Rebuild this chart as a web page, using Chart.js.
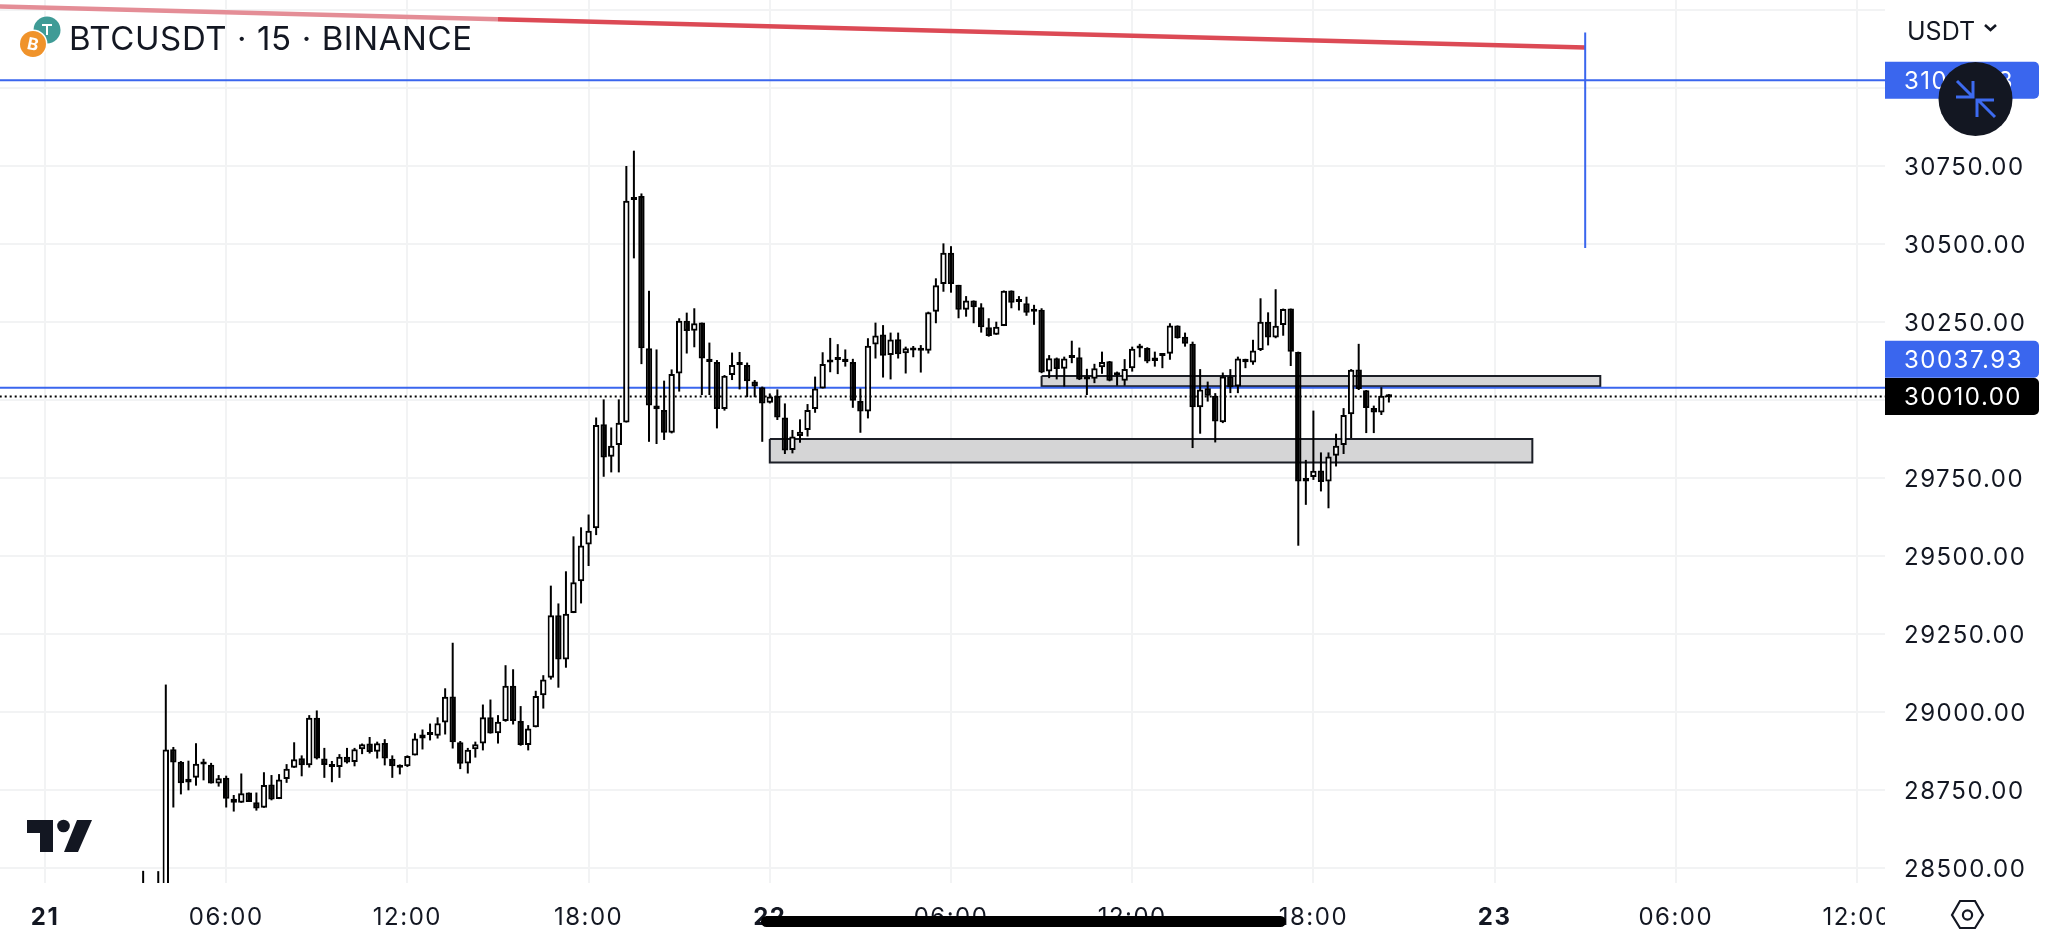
<!DOCTYPE html>
<html>
<head>
<meta charset="utf-8">
<title>BTCUSDT</title>
<script src="https://cdn.jsdelivr.net/npm/chart.js@4"></script>
<style>
  html, body { margin: 0; padding: 0; background: #fff; width: 2048px; height: 945px; overflow: hidden; }
  #chart { position: absolute; left: 0; top: 0; }
  #overlay { position: absolute; left: 0; top: 0; pointer-events: none; }
  .label { position: absolute; font-family: Inter, sans-serif; color: #131722; white-space: nowrap; }
  #symbol { left: 69px; top: 18px; font-size: 33px; line-height: 40px; letter-spacing: 0.6px; }
  #currency { left: 1907px; top: 16px; font-size: 25px; line-height: 30px; }
</style>
</head>
<body>
<canvas id="chart" width="2048" height="945"></canvas>
<svg id="overlay" width="2048" height="945" xmlns="http://www.w3.org/2000/svg">
  <rect x="1885" y="884" width="163" height="61" fill="#fff"/>
  <!-- pair icons -->
  <circle cx="47" cy="30" r="13.5" fill="#3f9b96"/>
  <path d="M42 25h10M47 25v10" stroke="#fff" stroke-width="2" fill="none"/>
  <circle cx="33" cy="44" r="14.5" fill="#fff"/>
  <circle cx="33" cy="44" r="13" fill="#f0932b"/>
  <text x="33" y="50" font-family="Inter, sans-serif" font-size="17" font-weight="700" fill="#fff" text-anchor="middle" transform="rotate(12 33 44)">B</text>
  <!-- logo -->
  <path d="M27 820H53V852H40V833H27Z" fill="#131722"/>
  <circle cx="63.5" cy="826" r="6.3" fill="#131722"/>
  <path d="M77 820H92L78 852H64Z" fill="#131722"/>
  <!-- currency chevron -->
  <path d="M1985 25l5.5 5 5.5-5" stroke="#131722" stroke-width="2.6" fill="none"/>
  <!-- collapse button -->
  <circle cx="1975.5" cy="99" r="37" fill="#131722"/>
  <path d="M1957 81L1973 97M1956 97H1973V81M1995 117L1978 100M1994 100H1977V117" stroke="#3d6bf0" stroke-width="3" fill="none"/>
  <!-- settings hexagon -->
  <path d="M1952 915L1960 901H1975L1983 915L1975 928H1960Z" stroke="#131722" stroke-width="2.2" fill="none"/>
  <circle cx="1967.5" cy="915" r="4.6" stroke="#131722" stroke-width="2.2" fill="none"/>
  <!-- home bar -->
  <rect x="761" y="916" width="525" height="11" rx="5.5" fill="#000"/>
</svg>
<div class="label" id="symbol">BTCUSDT · 15 · BINANCE</div>
<div class="label" id="currency">USDT</div>
<script>
// 15 minute candles, slot 0 = 21st 00:00
const firstSlot = 13;
const opens = [
  28440,28420,28420,28440,28880,28840,28773,28788,28835,28830,28770,28788,28721,28708,28741,28710,28692,28767,28720,28784,
  28820,28851,28828,28981,28850,28828,28823,28856,28839,28880,28898,28872,28900,28849,28820,28825,28860,28927,28927,28923,
  28965,29049,28902,28834,28880,28898,28982,28931,28970,29083,28970,28893,28950,29053,29109,29309,29167,29316,29418,29536,
  29588,29921,29817,29855,29927,30640,30653,30165,29981,29967,29894,30084,30253,30221,30247,30131,30121,29970,30079,30113,
  30111,30058,30040,29990,30012,29943,29839,29884,29903,29970,30036,30125,30130,30131,30121,29996,29962,30177,30209,30143,
  30194,30149,30158,30159,30157,30282,30371,30471,30368,30288,30318,30296,30232,30208,30236,30350,30316,30309,30286,30288,
  30090,30133,30099,30138,30136,30068,30067,30104,30123,30080,30061,30101,30167,30166,30124,30145,30147,30238,30202,30179,
  29976,30037,30013,29928,30074,30042,30131,30119,30159,30250,30199,30239,30292,30153,29749,29752,29773,29738,29820,29855,
  29953,30097,30030,29973,29959,30008
];
const highs = [
  28490,28440,28489,29087,28887,28842,28843,28899,28849,28836,28797,28795,28733,28802,28741,28741,28806,28797,28800,28832,
  28902,28860,28989,29004,28884,28842,28864,28884,28884,28898,28919,28904,28912,28860,28831,28860,28931,28943,28962,28982,
  29075,29221,28906,28884,28904,29023,29039,28989,29149,29136,29018,28957,29067,29117,29404,29347,29450,29562,29591,29632,
  29943,30001,29911,30001,30749,30798,30661,30349,30161,30061,30097,30261,30279,30293,30247,30183,30127,30079,30151,30153,
  30119,30063,30042,30020,30033,29988,29903,29937,29986,30074,30152,30198,30178,30161,30131,30036,30197,30247,30239,30215,
  30215,30170,30172,30175,30282,30389,30501,30492,30368,30332,30318,30309,30261,30250,30350,30350,30332,30330,30304,30293,
  30143,30135,30138,30189,30167,30099,30115,30154,30124,30090,30130,30170,30179,30168,30154,30146,30245,30238,30215,30186,
  30098,30058,30021,30087,30098,30138,30131,30192,30325,30280,30354,30292,30292,30154,29807,29965,29831,29831,29891,29973,
  30098,30179,30031,29981,30040,30018
];
const lows = [
  28400,28400,28400,28420,28693,28735,28748,28763,28780,28770,28760,28693,28680,28708,28711,28683,28692,28716,28720,28772,
  28820,28793,28821,28847,28788,28774,28788,28834,28825,28864,28866,28850,28828,28788,28799,28823,28860,28879,28908,28914,
  28927,28882,28816,28802,28853,28876,28930,28898,28968,28959,28891,28876,28950,29010,29103,29077,29141,29316,29347,29467,
  29566,29753,29767,29767,29927,30453,30114,29865,29858,29871,29892,30026,30148,30168,30015,30015,29908,29965,30063,30033,
  30008,30008,29865,29988,29935,29826,29828,29862,29882,29958,30036,30088,30082,30106,29974,29894,29940,30132,30071,30065,
  30132,30084,30136,30087,30148,30245,30346,30343,30261,30266,30245,30215,30202,30208,30236,30293,30286,30269,30240,30085,
  30069,30065,30042,30117,30063,30015,30053,30083,30059,30045,30045,30090,30136,30117,30106,30101,30128,30196,30170,29845,
  29891,29994,29863,29925,30021,30021,30101,30112,30156,30174,30197,30205,30108,29532,29663,29743,29706,29652,29786,29826,
  29877,30031,29893,29893,29951,29991
];
const closes = [
  28420,28430,28440,28879,28837,28771,28785,28833,28831,28770,28787,28721,28708,28739,28711,28690,28765,28719,28783,28817,
  28848,28828,28981,28850,28829,28823,28856,28837,28880,28896,28871,28899,28850,28825,28823,28858,28914,28914,28925,28963,
  29048,28902,28833,28878,28896,28982,28930,28968,29083,28970,28893,28946,29050,29103,29309,29167,29314,29415,29533,29580,
  29919,29815,29852,29926,30638,30650,30165,29981,29969,29894,30082,30253,30220,30245,30132,30121,29970,30077,30111,30111,
  30059,30042,29988,30010,29943,29837,29882,29897,29967,30036,30114,30119,30127,30121,29997,29962,30173,30206,30141,30193,
  30146,30165,30160,30157,30280,30367,30471,30371,30288,30318,30296,30232,30204,30234,30349,30311,30313,30279,30282,30087,
  30133,30098,30132,30134,30065,30065,30101,30121,30061,30078,30098,30163,30164,30122,30135,30140,30238,30197,30179,29976,
  30033,30013,29930,30074,30040,30132,30120,30158,30250,30199,30237,30291,30154,29738,29738,29772,29736,29818,29852,29951,
  30096,30034,29973,29959,30013,30010
];

const priceTicks = [31250,31000,30750,30500,30250,30000,29750,29500,29250,29000,28750,28500];
const priceLabels = ['','','30750.00','30500.00','30250.00','30000.00','29750.00','29500.00','29250.00','29000.00','28750.00','28500.00'];
const timeTicks = [0,24,48,72,96,120,144,168,192,216,240];
const timeLabels = ['21','06:00','12:00','18:00','22','06:00','12:00','18:00','23','06:00','12:00'];
const dayTicks = [0,96,192];

const targetPrice = 31024;
const targetLabel = '31024.13';
const currentPrice = 30037.93;
const currentLabel = '30037.93';
const lastPrice = 30010;
const lastLabel = '30010.00';

const trendSlots = [-6,60,204];
const trendPrices = [31260,31219,31129];
const markerSlot = 204;
const markerPrices = [31177,30486];

const zoneLeft = [96,132];
const zoneRight = [197,206];
const zoneTop = [29874,30076];
const zoneBottom = [29799,30043];

const axisFont = 'Inter, sans-serif';
const ink = '#131722';
const blue = '#3a66ee';

function hline(price, color, extra) {
  return Object.assign({
    type: 'line',
    data: [{ x: -6, y: price }, { x: 244, y: price }],
    borderColor: color,
    borderWidth: 2,
    pointRadius: 0,
    order: 3
  }, extra);
}

function zone(i) {
  const l = zoneLeft[i], r = zoneRight[i], t = zoneTop[i], b = zoneBottom[i];
  return {
    type: 'line',
    data: [{ x: l, y: t }, { x: r, y: t }, { x: r, y: b }, { x: l, y: b }, { x: l, y: t }],
    borderColor: '#1b1e26',
    borderWidth: 2,
    backgroundColor: '#d5d5d6',
    fill: 'shape',
    pointRadius: 0,
    order: 4
  };
}

const badges = {
  id: 'badges',
  beforeDraw(chart) {
    chart.ctx.letterSpacing = '1.5px';
  },
  afterDraw(chart) {
    const ctx = chart.ctx, y = chart.scales.y;
    const lastY = y.getPixelForValue(lastPrice);
    const rows = [
      [y.getPixelForValue(targetPrice), targetLabel, blue],
      [lastY - 37.4, currentLabel, blue],
      [lastY, lastLabel, '#000']
    ];
    ctx.save();
    ctx.font = '24px ' + axisFont;
    ctx.textAlign = 'left';
    ctx.textBaseline = 'middle';
    rows.forEach(r => {
      ctx.fillStyle = r[2];
      ctx.beginPath();
      ctx.roundRect(1885, r[0] - 18.5, 154, 37, [0, 5, 5, 0]);
      ctx.fill();
      ctx.fillStyle = '#fff';
      ctx.fillText(r[1], 1904, r[0] + 1.5);
    });
    ctx.restore();
  }
};

new Chart(document.getElementById('chart'), {
  type: 'bar',
  data: {
    datasets: [
      {
        label: 'body',
        data: opens.map((o, i) => ({ x: firstSlot + i, y: [o, closes[i]] })),
        backgroundColor: opens.map((o, i) => closes[i] >= o ? '#fff' : '#000'),
        borderColor: '#000',
        borderWidth: 2,
        borderSkipped: false,
        barThickness: 6.4,
        minBarLength: 3,
        inflateAmount: 0,
        grouped: false,
        order: 1
      },
      {
        label: 'wick',
        data: highs.map((h, i) => ({ x: firstSlot + i, y: [lows[i], h] })),
        backgroundColor: '#000',
        barThickness: 2,
        inflateAmount: 0,
        grouped: false,
        order: 2
      },
      zone(0),
      zone(1),
      hline(targetPrice, blue),
      hline(currentPrice, blue),
      hline(lastPrice, '#000', { borderDash: [2, 3], order: 3 }),
      {
        type: 'line',
        data: trendSlots.map((s, i) => ({ x: s, y: trendPrices[i] })),
        borderWidth: 4.5,
        borderColor: '#dc4a55',
        segment: { borderColor: c => c.p0DataIndex === 0 ? '#e48d96' : '#dc4a55' },
        pointRadius: 0,
        order: 3
      },
      {
        type: 'line',
        data: markerPrices.map(p => ({ x: markerSlot, y: p })),
        borderColor: blue,
        borderWidth: 2,
        pointRadius: 0,
        order: 2
      }
    ]
  },
  options: {
    responsive: false,
    animation: false,
    events: [],
    layout: { padding: 0, autoPadding: false },
    plugins: { legend: { display: false }, tooltip: { enabled: false }, title: { display: false } },
    scales: {
      x: {
        type: 'linear',
        offset: false,
        min: -5.96,
        max: 243.71,
        grid: { color: '#f2f3f4', lineWidth: 2, drawTicks: false, offset: false },
        border: { display: false },
        afterBuildTicks: s => { s.ticks = timeTicks.map(v => ({ value: v })); },
        afterFit: s => { s.height = 62; s.paddingLeft = s.paddingRight = 0; },
        ticks: {
          autoSkip: false,
          maxRotation: 0,
          padding: 20,
          color: ink,
          font: c => ({ family: axisFont, size: 24, weight: c.tick && dayTicks.includes(c.tick.value) ? '700' : '400' }),
          callback: (v, i) => timeLabels[i]
        }
      },
      y: {
        type: 'linear',
        position: 'right',
        min: 28451,
        max: 31281,
        grid: { color: '#f2f3f4', lineWidth: 2, drawTicks: false },
        border: { display: false },
        afterBuildTicks: s => { s.ticks = priceTicks.slice().reverse().map(v => ({ value: v })); },
        afterFit: s => { s.width = 163; s.paddingTop = s.paddingBottom = 0; },
        ticks: {
          autoSkip: false,
          padding: 19,
          labelOffset: 2,
          color: ink,
          font: { family: axisFont, size: 24 },
          callback: v => priceLabels[priceTicks.indexOf(v)]
        }
      }
    }
  },
  plugins: [badges]
});
</script>
</body>
</html>
